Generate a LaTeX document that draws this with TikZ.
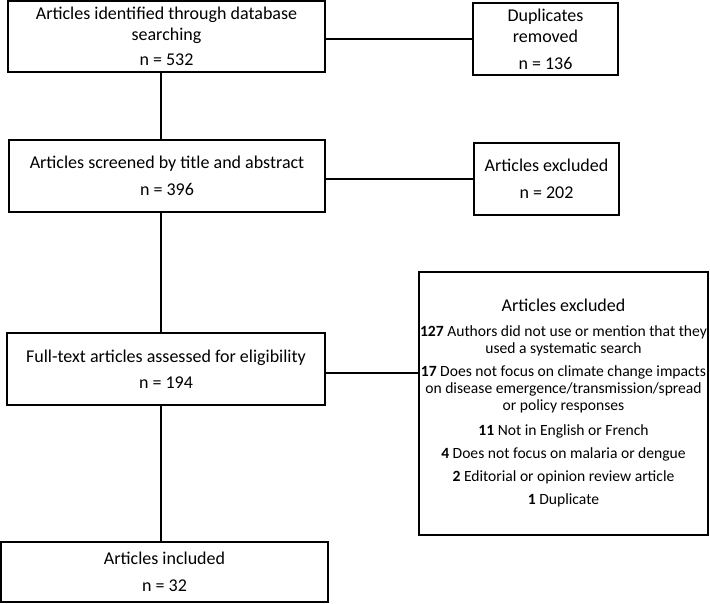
\documentclass[tikz,border=0pt]{standalone}
\usepackage{fontspec}
\setmainfont{Carlito}
\begin{document}
\begin{tikzpicture}[x=1pt,y=-1pt,
  box/.style={draw=black,line width=1.5pt,inner sep=0pt,align=center,
    font=\fontsize{18}{21}\selectfont,text=black},
  small/.style={font=\fontsize{15.6}{17}\selectfont},
  link/.style={draw=black,line width=1.3pt}]
\useasboundingbox (0,0) rectangle (710,604);
\node[box,minimum width=317pt,minimum height=71pt] (b1) at (166.5,36.5)
  {Articles identified through database\\ searching\\[4pt] n = 532};
\node[box,minimum width=145pt,minimum height=72pt] (dup) at (545.5,39)
  {Duplicates\\ removed\\[6pt] n = 136};
\node[box,minimum width=316pt,minimum height=72pt] (b2) at (167,176)
  {Articles screened by title and abstract\\[6pt] n = 396};
\node[box,minimum width=145pt,minimum height=72pt] (ex1) at (546.5,179)
  {Articles excluded\\[6pt] n = 202};
\node[box,minimum width=318pt,minimum height=72pt] (b3) at (166,369)
  {Full-text articles assessed for eligibility\\[5pt] n = 194};
\node[box,small,minimum width=289pt,minimum height=263pt] (ex2) at (563.5,403.5)
  {{\fontsize{18}{21}\selectfont Articles excluded}\\[8pt]
   \textbf{127} Authors did not use or mention that they\\
   used a systematic search\\[6pt]
   \textbf{17} Does not focus on climate change impacts\\
   on disease emergence/transmission/spread\\
   or policy responses\\[8pt]
   \textbf{11} Not in English or French\\[6pt]
   \textbf{4} Does not focus on malaria or dengue\\[6pt]
   \textbf{2} Editorial or opinion review article\\[6pt]
   \textbf{1} Duplicate};
\node[box,minimum width=327pt,minimum height=60pt] (b4) at (164.5,572)
  {Articles included\\[6pt] n = 32};
\coordinate (vx) at (161,0);
\coordinate (h3) at (0,373);
\draw[link] (b1.south -| vx) -- (b2.north -| vx);
\draw[link] (b2.south -| vx) -- (b3.north -| vx);
\draw[link] (b3.south -| vx) -- (b4.north -| vx);
\draw[link] (b1.east |- dup.west) -- (dup.west);
\draw[link] (b2.east |- ex1.west) -- (ex1.west);
\draw[link] (b3.east |- h3) -- (ex2.west |- h3);
\end{tikzpicture}
\end{document}
